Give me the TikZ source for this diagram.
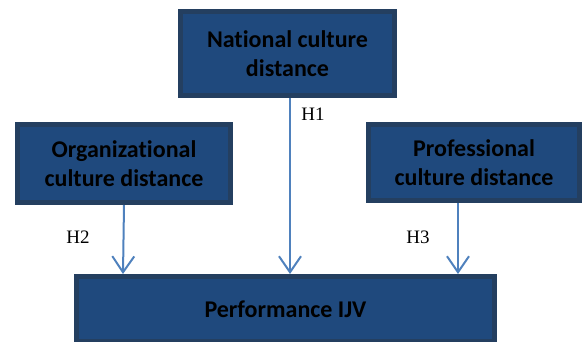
\documentclass[tikz,border=0pt]{standalone}
\usepackage{fontspec}
\setmainfont{Liberation Serif}
\newfontfamily\boxfont[Ligatures = NoCommon]{Carlito}
\usetikzlibrary{arrows.meta}
\definecolor{boxfill}{HTML}{1F497D}
\definecolor{boxline}{HTML}{243F60}
\definecolor{arrowblue}{HTML}{4F81BD}
\begin{document}
\begin{tikzpicture}[x = 1pt, y = -1pt,
        factor/.style = {draw = boxline, fill = boxfill, line width = 5pt, inner sep = 0pt, align = center, font = \boxfont\bfseries\fontsize{24}{29}\selectfont},
        link/.style = {draw = arrowblue, line width = 2pt, -{Straight Barb[length = 16pt, width = 22pt, line width = 2pt]}},
        hyp/.style = {font = \fontsize{19}{22}\selectfont, inner sep = 0pt}]
        \useasboundingbox (0, 0) rectangle (582, 341);
        \node[factor, minimum width = 214pt, minimum height = 84pt] (national) at (287.5, 53.5) {National culture\\distance};
        \node[factor, minimum width = 213pt, minimum height = 78pt] (organizational) at (124, 163.5) {Organizational\\culture distance};
        \node[factor, minimum width = 211pt, minimum height = 76pt] (professional) at (474, 162.5) {Professional\\culture distance};
        \node[factor, minimum width = 418pt, minimum height = 65pt] (performance) at (285.5, 309) {Performance IJV};
        \draw[link] ([xshift = 2.5pt]national.south) -- ([xshift = 2.5pt]national.south |- performance.north);
        \draw[link] (organizational.south) -- ([xshift = -1pt]organizational.south |- performance.north);
        \draw[link] ([xshift = -16pt]professional.south) -- ([xshift = -16pt]professional.south |- performance.north);
        \node[hyp] (h1) at (313, 114.5) {H1};
        \node[hyp] (h2) at (78, 237) {H2};
        \node[hyp] (h3) at (418, 237) {H3};
    \end{tikzpicture}
\end{document}
